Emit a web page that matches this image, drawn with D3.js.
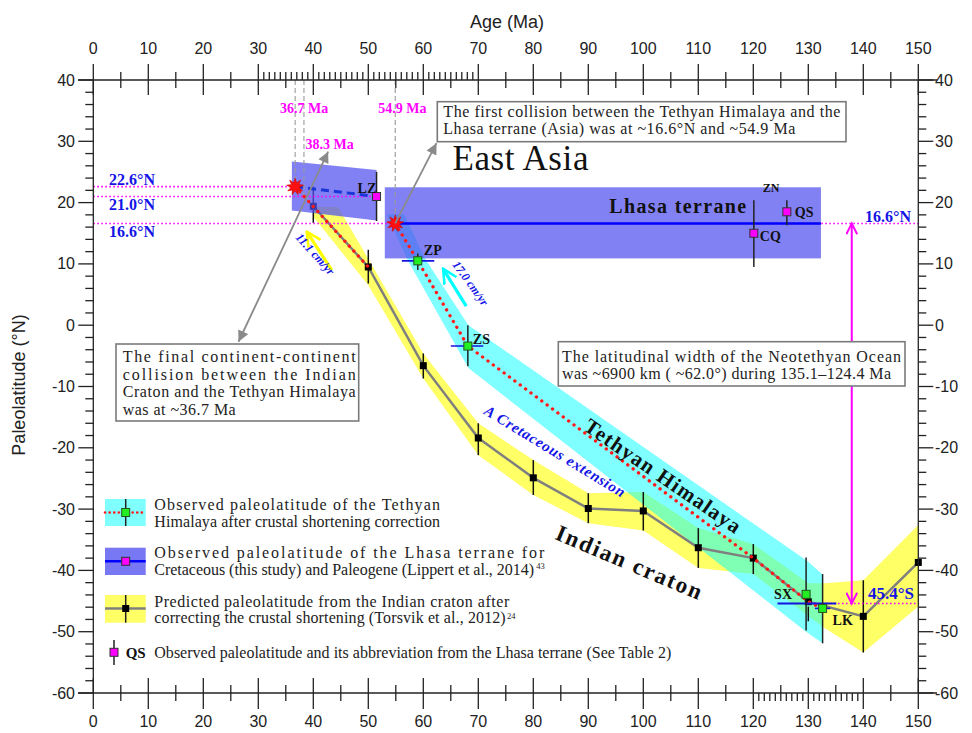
<!DOCTYPE html>
<html><head><meta charset="utf-8">
<script src="https://cdn.jsdelivr.net/npm/d3@7"></script>
<style>
body{margin:0;background:#fff;}
svg{display:block;}
</style></head><body>
<svg id="chart" width="972" height="733"></svg>
<script>
// ---------- data ----------
const ageTicks = d3.range(0, 151, 10);
const latTicks = d3.range(-60, 41, 10);

// Indian craton, predicted paleolatitude after shortening correction
const cratonAge = [40, 50, 60, 70, 80, 90, 100, 110, 120, 130, 140, 150];
const cratonLat = [19.4, 9.5, -6.6, -18.4, -24.9, -29.9, -30.3, -36.3, -38.0, -45.1, -47.5, -38.7];
const cratonHi  = [22.6, 12.3, -4.6, -16.0, -22.0, -27.4, -27.2, -33.1, -35.7, -45.9, -41.6, null];
const cratonLo  = [16.7, 6.8, -8.7, -21.2, -27.7, -32.3, -33.5, -39.6, -40.6, -48.3, -53.4, null];
const cratonBandUpper = [[40,19.3],[44.5,19.3],[60,-4.6],[70,-16.0],[80,-22.0],[90,-27.4],[100,-27.2],[110,-33.1],[120,-35.7],[130,-42.1],[133,-42.1],[140,-41.6],[150,-32.6]];
const cratonBandLower = [[150,-45.9],[140,-53.4],[132.6,-49.2],[120,-40.6],[110,-39.6],[100,-33.5],[90,-32.3],[80,-27.7],[70,-21.2],[60,-8.7],[50,6.5],[40,17.7]];

// Tethyan Himalaya, observed after shortening correction
const thName   = ["ZP", "ZS", "SX", "LK"];
const thAge    = [59.0, 68.1, 129.6, 132.6];
const thLat    = [10.5, -3.4, -43.9, -46.2];
const thLatHi  = [11.7, 0.0, -37.9, -40.6];
const thLatLo  = [9.0, -6.7, -49.8, -51.9];
const thAgeMin = [56.1, 65.0, null, 131.2];
const thAgeMax = [62.0, 70.9, null, 134.0];
const tethyanBand  = [[53.3,18.1],[56.5,18.1],[60.3,10.9],[68.2,0.0],[130,-38.6],[132.6,-40.7],[132.6,-51.9],[129.6,-50.0],[68.2,-7.0],[57.0,10.9]];
const tethyanTrack = [[54.9,16.6],[59.0,10.5],[68.1,-3.4],[120,-38.0],[130,-45.1],[131.6,-45.8]];
const collisionTrack = [[36.7,22.6],[50,9.5]];

// Lhasa terrane observations
const lhName = ["LZ", "CQ", "QS"];
const lhAge  = [51.5, 120.1, 126.1];
const lhLat  = [21.0, 15.0, 18.5];
const lhHi   = [25.0, 20.4, 20.4];
const lhLo   = [17.0, 9.5, 16.3];
const paleogeneBox = [[36.1,26.7],[51.5,25.3],[51.5,17.1],[36.1,18.7]];
const cretaceousBoxAge = [53.0, 132.3];
const cretaceousBoxLat = [10.9, 22.5];
const lhasaMeanLat = 16.6;
const lhasaMeanAge = [54.9, 132.3];

// collision events and reference latitudes
const collisionAge = [36.7, 38.3, 54.9];
const collisionLat = [22.6, 21.0, 16.6];
const refLat    = [22.6, 21.0, 16.6];
const refLatEnd = [36.7, 51.5, 150];
const starPoints = [[36.7,22.6],[54.9,16.6]];

// Neotethys width
const oceanAge = 137.9;
const oceanLat = [16.6, -45.4];
const oceanSpanAge = [124.4, 135.1];
const southLat = -45.4;

// ---------- scales ----------
const svg = d3.select("#chart");
const x = d3.scaleLinear().domain([0,150]).range([93.3,918.3]);
const y = d3.scaleLinear().domain([-60,40]).range([693,80]);
const line = d3.line().x(d => x(d[0])).y(d => y(d[1]));
const SERIF = "'Liberation Serif','Times New Roman',serif";
const SANS = "'Liberation Sans',Arial,sans-serif";

// ---------- arrow markers ----------
const defs = svg.append("defs");
function marker(id, color, filled, w, h) {
  const m = defs.append("marker").attr("id", id).attr("viewBox","0 0 10 10")
    .attr("refX", filled ? 10 : 9).attr("refY",5).attr("markerUnits","userSpaceOnUse")
    .attr("markerWidth", w).attr("markerHeight", h).attr("orient","auto-start-reverse");
  if (filled) m.append("path").attr("d","M0,0L10,5L0,10Z").attr("fill",color);
  else m.append("path").attr("d","M0,0.5L9,5L0,9.5").attr("fill","none").attr("stroke",color).attr("stroke-width",1.6);
}
marker("headGray", "#8a8a8a", true, 14, 11);
marker("headMag", "#ff00ff", false, 14, 12);
marker("headCyan", "#00ffff", false, 16, 16);
marker("headYellow", "#ffff00", false, 16, 16);

// ---------- bands ----------
svg.append("path").attr("d", line(cratonBandUpper.concat(cratonBandLower)) + "Z")
  .attr("fill","#ffff66");
svg.append("path").attr("d", line(tethyanBand) + "Z")
  .attr("fill","#00ffff").attr("fill-opacity",0.5);

// ---------- Indian craton series ----------
const gCraton = svg.append("g");
gCraton.append("path").attr("d", line(cratonAge.map((a,i)=>[a,cratonLat[i]])))
  .attr("fill","none").attr("stroke","#7f7f7f").attr("stroke-width",2.5);
cratonAge.forEach((a,i) => {
  if (cratonHi[i] !== null)
    gCraton.append("line").attr("x1",x(a)).attr("x2",x(a)).attr("y1",y(cratonHi[i])).attr("y2",y(cratonLo[i]))
      .attr("stroke","#111").attr("stroke-width",1.5);
});
gCraton.selectAll("rect.sq").data(cratonAge).join("rect")
  .attr("x",(a)=>x(a)-3.5).attr("y",(a,i)=>y(cratonLat[i])-3.5).attr("width",7).attr("height",7).attr("fill","#000");

// ---------- Lhasa boxes ----------
svg.append("path").attr("d", line(paleogeneBox)+"Z").attr("fill","rgb(80,80,240)").attr("fill-opacity",0.72);
svg.append("rect").attr("x",x(cretaceousBoxAge[0])).attr("y",y(cretaceousBoxLat[1]))
  .attr("width",x(cretaceousBoxAge[1])-x(cretaceousBoxAge[0])).attr("height",y(cretaceousBoxLat[0])-y(cretaceousBoxLat[1]))
  .attr("fill","rgb(80,80,240)").attr("fill-opacity",0.72);

// ---------- reference latitudes and ages ----------
refLat.forEach((l,i) => svg.append("line").attr("x1",x(0)).attr("x2",x(refLatEnd[i])).attr("y1",y(l)).attr("y2",y(l))
  .attr("stroke","#ff00ff").attr("stroke-width",1.6).attr("stroke-dasharray","1.6,2.4"));
svg.append("line").attr("x1",x(130.3)).attr("x2",x(150)).attr("y1",y(southLat)).attr("y2",y(southLat))
  .attr("stroke","#ff00ff").attr("stroke-width",1.6).attr("stroke-dasharray","1.6,2.4");
collisionAge.forEach((a,i) => svg.append("line").attr("x1",x(a)).attr("x2",x(a)).attr("y1",y(40)).attr("y2",y(collisionLat[i]))
  .attr("stroke","#9a9a9a").attr("stroke-width",1.1).attr("stroke-dasharray","5,3"));

// Lhasa mean line and Paleogene trend
svg.append("line").attr("x1",x(lhasaMeanAge[0])).attr("x2",x(lhasaMeanAge[1])).attr("y1",y(lhasaMeanLat)).attr("y2",y(lhasaMeanLat))
  .attr("stroke","#0000ff").attr("stroke-width",2.5);
svg.append("path").attr("d", line([[36.7,22.6],[lhAge[0],lhLat[0]]])).attr("fill","none")
  .attr("stroke","#1a35d8").attr("stroke-width",3).attr("stroke-dasharray","8,5");

// red dotted tracks
[collisionTrack, tethyanTrack].forEach(tr => svg.append("path").attr("d", line(tr)).attr("fill","none")
  .attr("stroke","#ff1a1a").attr("stroke-width",3.3).attr("stroke-linecap","round").attr("stroke-dasharray","0.1,6.6"));

// ocean width span
svg.append("line").attr("x1",x(oceanSpanAge[0])).attr("x2",x(oceanSpanAge[1])).attr("y1",y(southLat)).attr("y2",y(southLat))
  .attr("stroke","#1515e0").attr("stroke-width",1.8);

// ---------- Tethyan Himalaya observations ----------
thAge.forEach((a,i) => {
  if (thAgeMin[i] !== null)
    svg.append("line").attr("x1",x(thAgeMin[i])).attr("x2",x(thAgeMax[i])).attr("y1",y(thLat[i])).attr("y2",y(thLat[i]))
      .attr("stroke","#1515e0").attr("stroke-width",1.6);
  svg.append("line").attr("x1",x(a)).attr("x2",x(a)).attr("y1",y(thLatHi[i])).attr("y2",y(thLatLo[i]))
    .attr("stroke","#222").attr("stroke-width",1.5);
});
svg.selectAll("rect.th").data(thAge).join("rect").attr("class","th")
  .attr("x",a=>x(a)-4).attr("y",(a,i)=>y(thLat[i])-4).attr("width",8).attr("height",8)
  .attr("fill","#22ee22").attr("stroke","#225522").attr("stroke-width",1);

// ---------- Lhasa observations ----------
lhAge.forEach((a,i) => svg.append("line").attr("x1",x(a)).attr("x2",x(a)).attr("y1",y(lhHi[i])).attr("y2",y(lhLo[i]))
  .attr("stroke","#222").attr("stroke-width",1.5));
svg.selectAll("rect.lh").data(lhAge).join("rect").attr("class","lh")
  .attr("x",a=>x(a)-4).attr("y",(a,i)=>y(lhLat[i])-4).attr("width",8).attr("height",8)
  .attr("fill","#ff00ff").attr("stroke","#333").attr("stroke-width",1);

// ---------- collision stars ----------
function burst(r1, r2, n) {
  const p = [];
  for (let k = 0; k < 2*n; k++) {
    const ang = k*Math.PI/n - Math.PI/2, r = k%2 ? r2 : r1;
    p.push([r*Math.cos(ang), r*Math.sin(ang)]);
  }
  return "M" + p.join("L") + "Z";
}
svg.selectAll("path.star").data(starPoints).join("path").attr("class","star")
  .attr("d", burst(8.5, 4.2, 9)).attr("transform", d => `translate(${x(d[0])},${y(d[1])})`)
  .attr("fill","#ff1010").attr("stroke","#cc0000").attr("stroke-width",0.6);

// ---------- arrows ----------
function arrow(p0, p1, color, w, startHead, endHead) {
  const l = svg.append("path").attr("d", line([p0,p1])).attr("fill","none").attr("stroke",color).attr("stroke-width",w);
  if (startHead) l.attr("marker-start", `url(#${startHead})`);
  if (endHead) l.attr("marker-end", `url(#${endHead})`);
}
arrow([26.4,-2.7],[42.7,28.3], "#8a8a8a", 1.8, "headGray", "headGray");
arrow([54.9,16.6],[62.4,29.7], "#8a8a8a", 1.8, null, "headGray");
arrow([oceanAge, oceanLat[0]],[oceanAge, oceanLat[1]], "#ff00ff", 2, "headMag", "headMag");
arrow([43.35,9.0],[38.8,15.25], "#ffff00", 3.2, null, "headYellow");
arrow([67.8,3.1],[63.6,9.2], "#00ffff", 3.2, null, "headCyan");

// ---------- axes ----------
const ax = svg.append("g").attr("stroke","#222").attr("stroke-width",1.3);
function seg(x1,y1,x2,y2){ ax.append("line").attr("x1",x1).attr("y1",y1).attr("x2",x2).attr("y2",y2); }
[y(40), y(-60)].forEach(yy => seg(78, yy, 937, yy));
[x(0), x(150)].forEach(xx => seg(xx, y(40), xx, y(-60)));
ageTicks.forEach(a => { seg(x(a), y(40)-16, x(a), y(40)+15); seg(x(a), y(-60)-15, x(a), y(-60)+16); });
d3.range(5,150,10).forEach(a => { seg(x(a), y(40)-8, x(a), y(40)+8); seg(x(a), y(-60)-8, x(a), y(-60)+8); });
d3.range(31,70).filter(a => a%5).forEach(a => seg(x(a), y(40)-8, x(a), y(40)));
d3.range(121,140).filter(a => a%5).forEach(a => seg(x(a), y(-60), x(a), y(-60)+8));
latTicks.forEach(l => { seg(x(0)-15, y(l), x(0), y(l)); seg(x(150), y(l), x(150)+15, y(l)); });
d3.range(-58,40,2).filter(l => l%10).forEach(l => { seg(x(0)-8, y(l), x(0), y(l)); seg(x(150), y(l), x(150)+8, y(l)); });

const tl = svg.append("g").attr("font-family",SANS).attr("font-size",16).attr("fill","#222");
ageTicks.forEach(a => {
  tl.append("text").attr("x",x(a)).attr("y",54).attr("text-anchor","middle").text(a);
  tl.append("text").attr("x",x(a)).attr("y",727).attr("text-anchor","middle").text(a);
});
latTicks.forEach(l => {
  tl.append("text").attr("x",75).attr("y",y(l)+5.5).attr("text-anchor","end").text(l);
  tl.append("text").attr("x",935).attr("y",y(l)+5.5).attr("text-anchor","start").text(l);
});
svg.append("text").attr("x",507).attr("y",28).attr("text-anchor","middle").attr("font-family",SANS)
  .attr("font-size",18).attr("fill","#222").text("Age (Ma)");
svg.append("text").attr("transform","translate(25,385) rotate(-90)").attr("text-anchor","middle").attr("font-family",SANS)
  .attr("font-size",18).attr("fill","#222").text("Paleolatitude (°N)");

// ---------- labels ----------
function txt(px, py, s, o) {
  const t = svg.append("text").attr("x",px).attr("y",py).attr("font-family", o.family || SERIF)
    .attr("font-size", o.size || 14).attr("fill", o.fill || "#111").text(s);
  if (o.bold) t.attr("font-weight","bold");
  if (o.italic) t.attr("font-style","italic");
  if (o.anchor) t.attr("text-anchor", o.anchor);
  if (o.len) t.attr("textLength", o.len).attr("lengthAdjust","spacing");
  if (o.ls) t.attr("letter-spacing", o.ls);
  if (o.rot !== undefined) t.attr("transform", `rotate(${o.rot},${px},${py})`);
  return t;
}
const BLUE = "#1414e6", MAG = "#ff00ff";
txt(109, 185, "22.6°N", {bold:true, size:16, fill:BLUE});
txt(109, 210, "21.0°N", {bold:true, size:16, fill:BLUE});
txt(109, 237.3, "16.6°N", {bold:true, size:16, fill:BLUE});
txt(865, 221.5, "16.6°N", {bold:true, size:16, fill:BLUE});
txt(868, 598.5, "45.4°S", {bold:true, size:17, fill:BLUE});
txt(x(36.7)+9, 113.3, "36.7 Ma", {bold:true, size:14, fill:MAG, anchor:"middle"});
txt(x(54.9)-17, 113.3, "54.9 Ma", {bold:true, size:14, fill:MAG});
txt(x(38.3)+1.5, 149.3, "38.3 Ma", {bold:true, size:14, fill:MAG});

// point names
const nameOff = {ZP:[6,-6], ZS:[5,-2], SX:[-32,5], LK:[10,17], LZ:[-19,-3], CQ:[6,8], QS:[8,5]};
thName.forEach((n,i) => txt(x(thAge[i])+nameOff[n][0], y(thLat[i])+nameOff[n][1], n, {bold:true, size:14}));
lhName.forEach((n,i) => txt(x(lhAge[i])+nameOff[n][0], y(lhLat[i])+nameOff[n][1], n, {bold:true, size:14}));
txt(x(120.1)+9, 192.3, "ZN", {bold:true, size:12});

txt(x(65.3), y(25.3), "East Asia", {size:35, len:136});
txt(x(93.8), y(18.25), "Lhasa terrane", {bold:true, size:20, len:137});
txt(x(102.9), y(-25.6), "Tethyan Himalaya", {bold:true, size:21, anchor:"middle", ls:1.3, rot:34.5});
txt(x(97.0), y(-39.9), "Indian craton", {bold:true, size:23, anchor:"middle", ls:1.8, rot:23});
txt(x(83.5), y(-21.3), "A Cretaceous extension", {bold:true, italic:true, size:15, fill:BLUE, anchor:"middle", ls:0.8, rot:31.3});
txt(x(39.8), y(11.8)+4, "11.1 cm/yr", {bold:true, italic:true, size:12, fill:BLUE, anchor:"middle", rot:48});
txt(x(68.0), y(7.1)+4, "17.0 cm/yr", {bold:true, italic:true, size:12, fill:BLUE, anchor:"middle", rot:54});

// ---------- note boxes ----------
function noteBox(x0, y0, x1, y1) {
  svg.append("rect").attr("x",x0).attr("y",y0).attr("width",x1-x0).attr("height",y1-y0)
    .attr("fill","#fff").attr("stroke","#7a7a7a").attr("stroke-width",1.6);
}
noteBox(437.3, 101.7, 846, 141.7);
txt(443.3, 116.7, "The first collision between the Tethyan Himalaya and the", {size:16, fill:"#222", len:397});
txt(443.3, 133.5, "Lhasa terrane (Asia) was at ~16.6°N and ~54.9 Ma", {size:16, fill:"#222", len:352});

noteBox(116, 344, 358.7, 421);
txt(122.7, 361.7, "The final continent-continent", {size:16, fill:"#222", len:233});
txt(122.7, 379.5, "collision between the Indian", {size:16, fill:"#222", len:233});
txt(122.7, 397.3, "Craton and the Tethyan Himalaya", {size:16, fill:"#222", len:233});
txt(122.7, 414.5, "was at ~36.7 Ma", {size:16, fill:"#222", len:113});

noteBox(558.3, 341.7, 905, 386);
txt(562, 361.5, "The latitudinal width of the Neotethyan Ocean", {size:16, fill:"#222", len:339});
txt(562, 379, "was ~6900 km ( ~62.0°) during 135.1–124.4 Ma", {size:16, fill:"#222", len:329});

// ---------- legend ----------
const lg = svg.append("g");
const sw = [105, 145.7], swMid = 125.7;
// Tethyan Himalaya entry
lg.append("rect").attr("x",sw[0]).attr("y",499).attr("width",sw[1]-sw[0]).attr("height",27).attr("fill","#80ffff");
lg.append("line").attr("x1",sw[0]).attr("x2",sw[1]).attr("y1",512.5).attr("y2",512.5).attr("stroke","#ff1a1a")
  .attr("stroke-width",2.6).attr("stroke-linecap","round").attr("stroke-dasharray","0.1,4.5");
lg.append("line").attr("x1",swMid).attr("x2",swMid).attr("y1",499).attr("y2",526).attr("stroke","#222").attr("stroke-width",1.5);
lg.append("rect").attr("x",swMid-4).attr("y",508.5).attr("width",8).attr("height",8).attr("fill","#22ee22").attr("stroke","#225522");
// Lhasa entry
lg.append("rect").attr("x",sw[0]).attr("y",547.7).attr("width",sw[1]-sw[0]).attr("height",27.3).attr("fill","rgb(120,120,245)");
lg.append("line").attr("x1",sw[0]).attr("x2",sw[1]).attr("y1",561.3).attr("y2",561.3).attr("stroke","#0000ff").attr("stroke-width",2.5);
lg.append("rect").attr("x",swMid-4).attr("y",557.3).attr("width",8).attr("height",8).attr("fill","#ff00ff").attr("stroke","#333");
// Indian craton entry
lg.append("rect").attr("x",sw[0]).attr("y",595).attr("width",sw[1]-sw[0]).attr("height",27.7).attr("fill","#ffff66");
lg.append("line").attr("x1",sw[0]).attr("x2",sw[1]).attr("y1",608.5).attr("y2",608.5).attr("stroke","#7f7f7f").attr("stroke-width",2.5);
lg.append("line").attr("x1",swMid).attr("x2",swMid).attr("y1",595).attr("y2",622.7).attr("stroke","#222").attr("stroke-width",1.5);
lg.append("rect").attr("x",swMid-3.5).attr("y",605).attr("width",7).attr("height",7).attr("fill","#000");
// single observation entry
lg.append("line").attr("x1",114).attr("x2",114).attr("y1",640).attr("y2",665).attr("stroke","#222").attr("stroke-width",1.5);
lg.append("rect").attr("x",110).attr("y",648.3).attr("width",8).attr("height",8).attr("fill","#ff00ff").attr("stroke","#333");
txt(125.7, 658.3, "QS", {bold:true, size:15});

const L = {size:16, fill:"#222"};
txt(154.3, 510, "Observed paleolatitude of the Tethyan", Object.assign({len:285.7}, L));
txt(154.3, 526.7, "Himalaya after crustal shortening correction", Object.assign({len:285.7}, L));
txt(154.3, 558.3, "Observed paleolatitude of the Lhasa terrane for", Object.assign({len:390}, L));
txt(154.3, 575, "Cretaceous (this study) and Paleogene (Lippert et al., 2014)", Object.assign({len:379.7}, L));
txt(536.3, 569, "43", {size:8.5, fill:"#222"});
txt(154.3, 606.7, "Predicted paleolatitude from the Indian craton after", Object.assign({len:355}, L));
txt(154.3, 622.7, "correcting the crustal shortening (Torsvik et al., 2012)", Object.assign({len:351.4}, L));
txt(507, 619, "24", {size:8.5, fill:"#222"});
txt(154.3, 658.3, "Observed paleolatitude and its abbreviation from the Lhasa terrane (See Table 2)", Object.assign({len:517}, L));
</script>
</body></html>
